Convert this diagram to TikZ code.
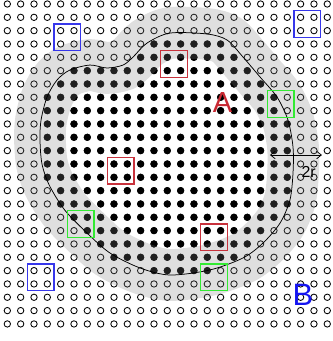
\documentclass[tikz,border=0pt]{standalone}
\usepackage{fontspec}
\setmainfont{Liberation Sans}
\usepackage{tikz}
\usetikzlibrary{arrows.meta}

\definecolor{boxred}{RGB}{200,50,60}
\definecolor{boxgreen}{RGB}{50,235,50}
\definecolor{boxblue}{RGB}{55,55,235}
\definecolor{labelred}{RGB}{200,40,50}
\definecolor{labelblue}{RGB}{20,20,240}

\begin{document}
\begin{tikzpicture}[
    x=5mm, y=5mm,
    hollow/.style={circle, draw, line width=0.9pt, fill=white, inner sep=0pt, minimum size=6.8pt},
    solid/.style={circle, fill=black, inner sep=0pt, minimum size=7.6pt},
    band/.style={draw=gray, line width=19.4mm, draw opacity=0.25},
    rim/.style={line width=0.8pt},
    redbox/.style={draw=boxred, line width=1.4pt},
    greenbox/.style={draw=boxgreen, line width=1.4pt},
    bluebox/.style={draw=boxblue, line width=1.4pt},
    dimarrow/.style={{Straight Barb[length=5pt,width=8pt]}-{Straight Barb[length=5pt,width=8pt]}, line width=0.8pt}
]
\useasboundingbox (-0.55,0.3) rectangle (24.36,-25.28);

% sample grid
\foreach \j in {0,...,24}
  \foreach \i in {0,...,24}
    \node[hollow] (d-\i-\j) at (\i,-\j) {};

% samples inside A
\foreach \j/\a/\b in {3/11/16, 4/10/17, 5/5/18, 6/4/19, 7/3/20, 8/3/20,
                      9/3/21, 10/3/21, 11/3/21, 12/3/21, 13/3/21, 14/4/21,
                      15/4/21, 16/5/20, 17/6/19, 18/7/18, 19/8/17, 20/11/15}
  \foreach \i in {\a,...,\b}
    \node[solid] (s-\i-\j) at (\i,-\j) {};

% boundary of A and its band
\def\rimpath{plot[smooth cycle] coordinates {
  (14.98,-2.25) (16.48,-2.7) (17.68,-3.98) (18.96,-5.48) (20.23,-6.98)
  (21.05,-8.7) (21.43,-10.73) (21.43,-12.68) (21.2,-14.7) (20.46,-16.43)
  (19.18,-17.93) (17.68,-19.05) (15.2,-19.95) (12.2,-20.33) (9.95,-19.8)
  (7.7,-18.68) (5.98,-17.18) (4.3,-15.45) (3.15,-13.6) (2.6,-12.0)
  (2.45,-10.2) (2.53,-8.7) (2.98,-6.98) (3.73,-5.7) (4.7,-4.95)
  (6.2,-4.58) (7.48,-4.8) (8.68,-4.58) (9.43,-3.98) (10.48,-2.93)
  (12.2,-2.18)}}
\draw[band] \rimpath;
\draw[rim] \rimpath;

% windows
\foreach \i/\j in {12/4, 8/12, 15/17}
  \draw[redbox] (\i-0.5,-\j+0.5) rectangle (\i+1.5,-\j-1.5);
\foreach \i/\j in {20/7, 5/16, 15/20}
  \draw[greenbox] (\i-0.5,-\j+0.5) rectangle (\i+1.5,-\j-1.5);
\foreach \i/\j in {4/2, 22/1, 2/20}
  \draw[bluebox] (\i-0.5,-\j+0.5) rectangle (\i+1.5,-\j-1.5);

% labels
\node[text=labelred, font=\fontsize{31}{31}\selectfont] (labA) at (16.14,-7.39) {A};
\node[text=labelblue, font=\fontsize{33}{33}\selectfont] (labB) at (22.18,-21.83) {B};

\coordinate (bandin) at (19.7,-11.33);
\coordinate (bandout) at (23.6,-11.33);
\draw[dimarrow] (bandin) -- (bandout);
\node[font=\fontsize{17}{17}\selectfont, inner sep=0pt] (width) at (22.6,-12.57) {2r};
\end{tikzpicture}
\end{document}
